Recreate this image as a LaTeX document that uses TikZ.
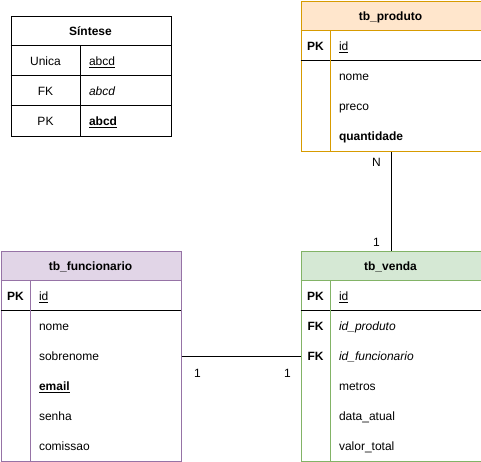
\documentclass[tikz,border=0pt]{standalone}
\usepackage{fontspec}
\setmainfont{Liberation Sans}
\definecolor{prodfill}{HTML}{FFE6CC}
\definecolor{prodline}{HTML}{D79B00}
\definecolor{funcfill}{HTML}{E1D5E7}
\definecolor{funcline}{HTML}{9673A6}
\definecolor{vendfill}{HTML}{D5E8D4}
\definecolor{vendline}{HTML}{82B366}
\tikzset{
  lbl/.style={inner sep=0pt, font=\fontsize{9}{11}\selectfont, text height=8.7pt, text depth=1.9pt},
  fld/.style={lbl, anchor=west},
  keylbl/.style={lbl, font=\fontsize{9}{11}\selectfont\bfseries},
  hdr/.style={lbl, font=\fontsize{9}{11}\selectfont\bfseries},
  headfill/.style={inner sep=0pt, minimum width=135pt, minimum height=22.5pt, anchor=north west},
  tbl/.style={draw, inner sep=0pt, minimum width=135pt, anchor=north west},
  conn/.style={draw=black, line width=0.75pt},
}
\begin{document}
\begin{tikzpicture}[x=0.75pt,y=-0.75pt,line width=0.75pt]
\useasboundingbox (0,0) rectangle (481,461);
\begin{scope}[shift={(0.5,0.5)}]
% ---------- Sintese ----------
\node[tbl, minimum width=120pt, minimum height=90pt] (sintese) at (10,15) {};
\draw (10,45) -- (170,45) (10,75) -- (170,75) (10,105) -- (170,105);
\draw (80,45) -- (80,135);
\node[hdr] (sintitle) at (90,30) {Síntese};
\node[lbl] (sunica) at (45,60) {Unica};
\node[fld] (sunicav) at (88,60) {\underline{abcd}};
\node[lbl] (sfk) at (45,90) {FK};
\node[fld] (sfkv) at (88,90) {\textit{abcd}};
\node[lbl] (spk) at (45,120) {PK};
\node[fld] (spkv) at (88,120) {\textbf{\underline{abcd}}};
% ---------- tb_produto ----------
\node[headfill, fill=prodfill] (prodhead) at (300,0) {};
\node[tbl, draw=prodline, minimum height=112.5pt] (produto) at (300,0) {};
\draw[prodline] (300,30) -- (480,30);
\draw[black] (300,60) -- (480,60);
\draw[prodline] (330,30) -- (330,150);
\node[hdr] (prodtitle) at (390,15) {tb\_produto};
\node[keylbl] (prodpk) at (315,45) {PK};
\node[fld] (prodid) at (338,45) {\underline{id}};
\node[fld] (prodnome) at (338,75) {nome};
\node[fld] (prodpreco) at (338,105) {preco};
\node[fld] (prodqtd) at (338,135) {\textbf{quantidade}};
% ---------- tb_funcionario ----------
\node[headfill, fill=funcfill] (funchead) at (0,250) {};
\node[tbl, draw=funcline, minimum height=157.5pt] (funcionario) at (0,250) {};
\draw[funcline] (0,280) -- (180,280);
\draw[black] (0,310) -- (180,310);
\draw[funcline] (30,280) -- (30,460);
\node[hdr] (functitle) at (90,265) {tb\_funcionario};
\node[keylbl] (funcpk) at (15,295) {PK};
\node[fld] (funcid) at (38,295) {\underline{id}};
\node[fld] (funcnome) at (38,325) {nome};
\node[fld] (funcsobre) at (38,355) {sobrenome};
\node[fld] (funcemail) at (38,385) {\textbf{\underline{email}}};
\node[fld] (funcsenha) at (38,415) {senha};
\node[fld] (funccom) at (38,445) {comissao};
% ---------- tb_venda ----------
\node[headfill, fill=vendfill] (vendhead) at (300,250) {};
\node[tbl, draw=vendline, minimum height=157.5pt] (venda) at (300,250) {};
\draw[vendline] (300,280) -- (480,280);
\draw[black] (300,310) -- (480,310);
\draw[vendline] (330,280) -- (330,460);
\node[hdr] (vendtitle) at (390,265) {tb\_venda};
\node[keylbl] (vendpk) at (315,295) {PK};
\node[fld] (vendid) at (338,295) {\underline{id}};
\node[keylbl] (vendfk1) at (315,325) {FK};
\node[fld] (vendprod) at (338,325) {\textit{id\_produto}};
\node[keylbl] (vendfk2) at (315,355) {FK};
\node[fld] (vendfunc) at (338,355) {\textit{id\_funcionario}};
\node[fld] (vendmetros) at (338,385) {metros};
\node[fld] (venddata) at (338,415) {data\_atual};
\node[fld] (vendvalor) at (338,445) {valor\_total};
% ---------- connectors ----------
\draw[conn] (produto.south) -- (venda.north);
\node[lbl] (labn) at (376,161) {N};
\node[lbl] (labv1) at (376,241) {1};
\draw[conn] (funcionario.east) -- (venda.west);
\node[lbl] (labf1) at (197,372) {1};
\node[lbl] (labv2) at (287,372) {1};
\end{scope}
\end{tikzpicture}
\end{document}
